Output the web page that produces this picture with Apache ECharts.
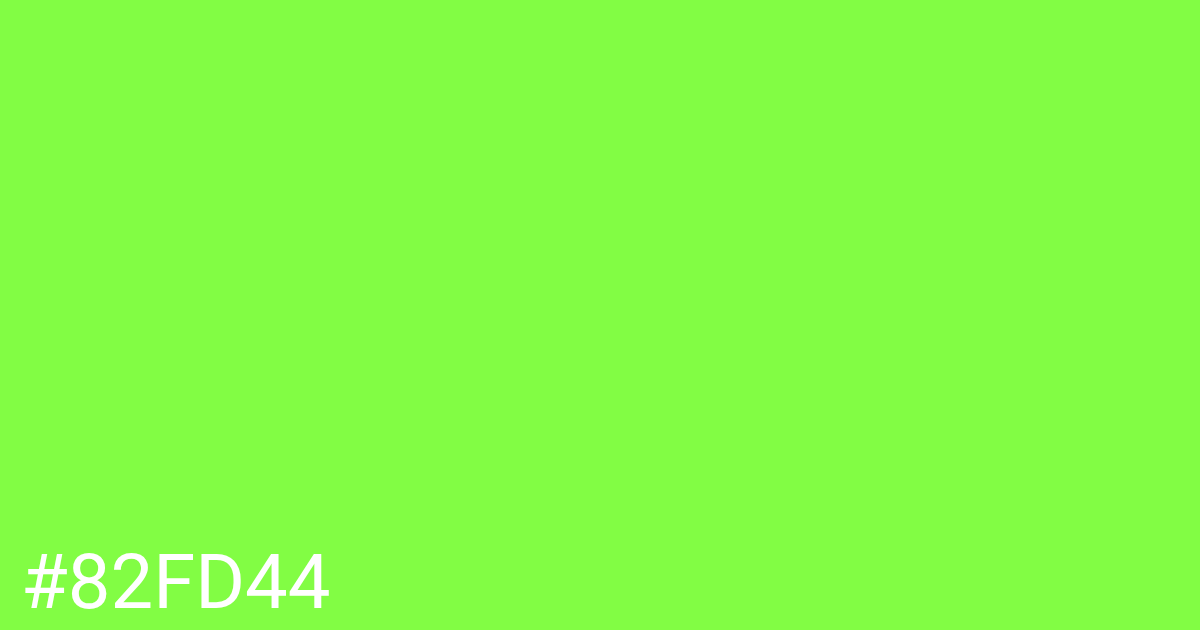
<!DOCTYPE html>
<html>
<head>
<meta charset="utf-8">
<script src="https://cdn.jsdelivr.net/npm/echarts@6/dist/echarts.min.js"></script>
<style>
  html, body { margin: 0; padding: 0; }
  #chart { width: 1200px; height: 630px; }
</style>
</head>
<body>
<div id="chart"></div>
<script>
const swatchColors = ['#82FD44'];
const swatchLabels = ['#82FD44'];

const chart = echarts.init(document.getElementById('chart'));

chart.setOption({
  backgroundColor: swatchColors[0],
  animation: false,
  graphic: [
    {
      type: 'text',
      left: 21,
      top: 551,
      style: {
        text: swatchLabels[0],
        fill: '#ffffff',
        fontFamily: 'Roboto',
        fontSize: 76,
        fontWeight: 'normal'
      }
    }
  ]
});
</script>
</body>
</html>
